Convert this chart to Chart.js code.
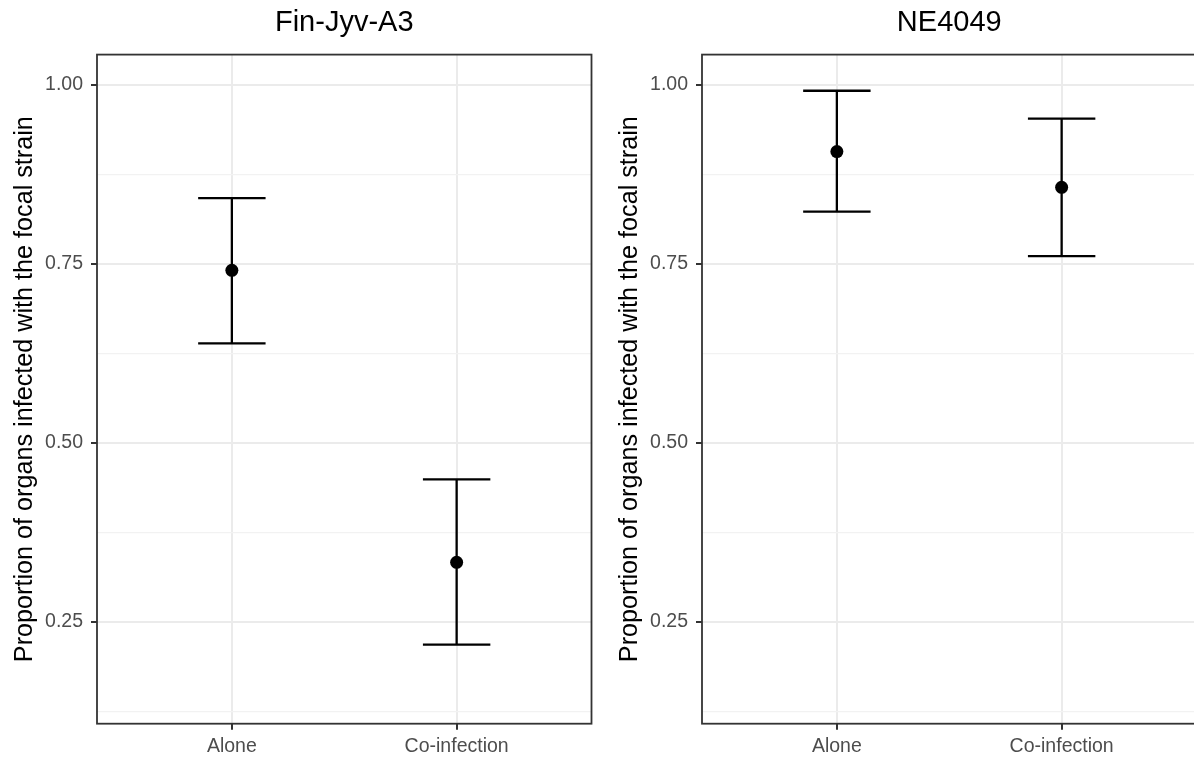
<!DOCTYPE html>
<html>
<head>
<meta charset="utf-8">
<script src="https://cdn.jsdelivr.net/npm/chart.js@4.4.1/dist/chart.umd.min.js"></script>
<style>
  html, body { margin: 0; padding: 0; background: #ffffff; overflow: hidden; }
  #wrap { position: relative; width: 1194px; height: 758px; overflow: hidden; }
  .panel { position: absolute; top: 0; width: 600px; height: 758px; }
  #p1 { left: 0px; }
  #p2 { left: 605px; }
</style>
</head>
<body>
<div id="wrap">
  <div class="panel" id="p1"><canvas id="c1" width="600" height="758"></canvas></div>
  <div class="panel" id="p2"><canvas id="c2" width="600" height="758"></canvas></div>
</div>
<script>
// Treatments on the x axis
const categories = ['Alone', 'Co-infection'];

// Fin-Jyv-A3: estimated proportion with lower / upper interval limits
const finMean  = [0.741, 0.333];
const finLower = [0.639, 0.218];
const finUpper = [0.842, 0.449];

// NE4049
const neMean  = [0.907, 0.857];
const neLower = [0.823, 0.761];
const neUpper = [0.992, 0.953];

// Labelled y ticks and the minor grid positions between them
const yMajorTicks = [0.25, 0.50, 0.75, 1.00];
const yMinorTicks = [0.125, 0.375, 0.625, 0.875];

const Y_MIN = 0.1075, Y_MAX = 1.0425;
const CAP_HALF = 0.15;
const FONT = '"Liberation Sans", Arial, Helvetica, sans-serif';

// Draws the dark panel frame on top of everything
const frame = {
  id: 'frame',
  afterDraw(chart) {
    const a = chart.chartArea, ctx = chart.ctx;
    ctx.save();
    ctx.strokeStyle = '#333333';
    ctx.lineWidth = 1.8;
    ctx.strokeRect(a.left, a.top, a.right - a.left, a.bottom - a.top);
    ctx.restore();
  }
};

function isMajor(v) {
  return yMajorTicks.some(t => Math.abs(t - v) < 1e-9);
}

function makeChart(canvasId, title, mean, lower, upper) {
  const whiskers = [], caps = [], points = [];
  categories.forEach((c, i) => {
    const x = i + 1;
    whiskers.push({ x: x, y: lower[i] }, { x: x, y: upper[i] }, { x: x, y: null });
    caps.push({ x: x - CAP_HALF, y: upper[i] }, { x: x + CAP_HALF, y: upper[i] }, { x: x, y: null });
    caps.push({ x: x - CAP_HALF, y: lower[i] }, { x: x + CAP_HALF, y: lower[i] }, { x: x, y: null });
    points.push({ x: x, y: mean[i] });
  });

  return new Chart(document.getElementById(canvasId), {
    type: 'scatter',
    data: {
      datasets: [
        { data: points, order: 0, pointRadius: 6.5, pointHoverRadius: 6.5,
          backgroundColor: '#000000', borderColor: '#000000', borderWidth: 0, showLine: false },
        { data: whiskers, order: 1, showLine: true, spanGaps: false, pointRadius: 0,
          borderColor: '#000000', borderWidth: 2.3 },
        { data: caps, order: 1, showLine: true, spanGaps: false, pointRadius: 0,
          borderColor: '#000000', borderWidth: 2.3 }
      ]
    },
    options: {
      responsive: false,
      animation: false,
      events: [],
      layout: { padding: { left: 0, right: 8.5, top: 0, bottom: 0 } },
      plugins: {
        legend: { display: false },
        tooltip: { enabled: false },
        title: {
          display: true,
          text: title,
          fullSize: false,
          color: '#000000',
          font: { family: FONT, size: 29, weight: 'normal', lineHeight: 1.2 },
          padding: { top: 5.6, bottom: 14.2 }
        }
      },
      scales: {
        x: {
          type: 'linear',
          min: 0.4, max: 2.6,
          afterBuildTicks: s => { s.ticks = categories.map((c, i) => ({ value: i + 1 })); },
          afterFit: s => { s.height = 758 - 723.7; },
          ticks: {
            callback: v => categories[Math.round(v) - 1] || '',
            color: '#4D4D4D',
            font: { family: FONT, size: 19.5 },
            padding: 5,
            maxRotation: 0, autoSkip: false
          },
          grid: {
            color: '#EBEBEB', lineWidth: 2,
            tickColor: '#333333', tickWidth: 2, tickLength: 6
          },
          border: { display: false }
        },
        y: {
          type: 'linear',
          min: Y_MIN, max: Y_MAX,
          afterBuildTicks: s => {
            s.ticks = yMinorTicks.concat(yMajorTicks).sort((a, b) => a - b).map(v => ({ value: v }));
          },
          afterFit: s => { s.width = 97; },
          ticks: {
            callback: v => isMajor(v) ? v.toFixed(2) : '',
            color: '#4D4D4D',
            font: { family: FONT, size: 19.5 },
            padding: 8,
            autoSkip: false
          },
          grid: {
            color: ctx => isMajor(ctx.tick.value) ? '#EBEBEB' : '#F2F2F2',
            lineWidth: ctx => isMajor(ctx.tick.value) ? 2 : 1.2,
            tickColor: ctx => isMajor(ctx.tick.value) ? '#333333' : 'rgba(0,0,0,0)',
            tickWidth: 2, tickLength: 6
          },
          border: { display: false },
          title: {
            display: true,
            text: 'Proportion of organs infected with the focal strain',
            color: '#000000',
            font: { family: FONT, size: 25.2 },
            padding: { top: 10, bottom: 0 }
          }
        }
      }
    },
    plugins: [frame]
  });
}

makeChart('c1', 'Fin-Jyv-A3', finMean, finLower, finUpper);
makeChart('c2', 'NE4049', neMean, neLower, neUpper);
</script>
</body>
</html>
